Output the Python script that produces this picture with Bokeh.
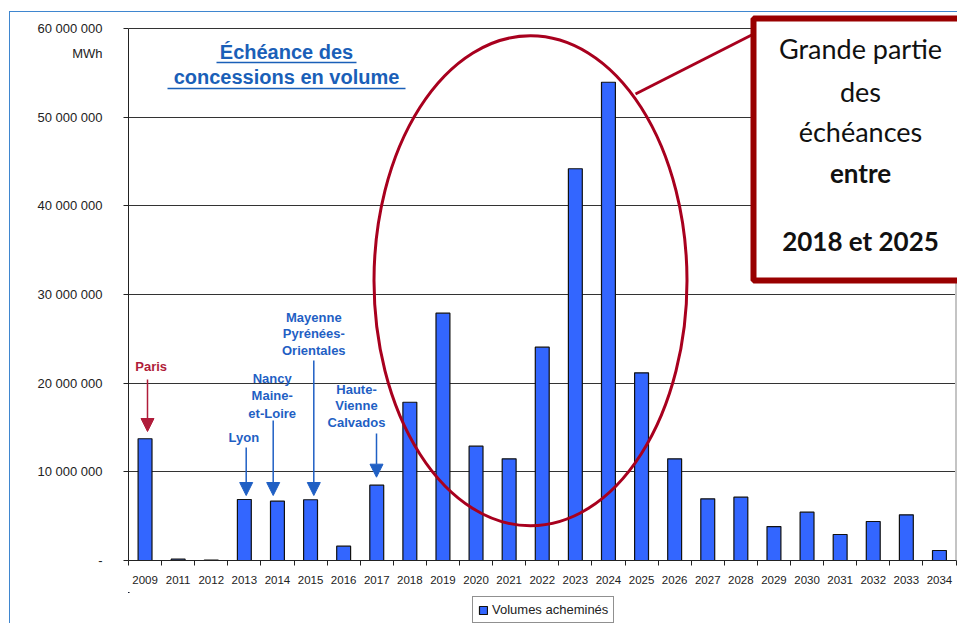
from bokeh.plotting import figure
from bokeh.layouts import column
from bokeh.models import (Range1d, FixedTicker, Legend, LegendItem, Arrow,
                          NormalHead)
from bokeh.core.properties import value
from bokeh.embed import file_html
from bokeh.resources import INLINE

# ---------------- data ----------------
years = ["2009", "2011", "2012", "2013", "2014", "2015", "2016", "2017",
         "2018", "2019", "2020", "2021", "2022", "2023", "2024", "2025",
         "2026", "2027", "2028", "2029", "2030", "2031", "2032", "2033", "2034"]
volumes = [13.73e6, 0.15e6, 0.05e6, 6.88e6, 6.69e6, 6.85e6, 1.61e6, 8.49e6,
           17.85e6, 27.89e6, 12.89e6, 11.47e6, 24.06e6, 44.18e6, 53.94e6, 21.17e6,
           11.47e6, 6.96e6, 7.14e6, 3.83e6, 5.45e6, 2.93e6, 4.40e6, 5.15e6, 1.13e6]
y_ticks = [0, 10000000, 20000000, 30000000, 40000000, 50000000, 60000000]
y_tick_labels = ["-", "10 000 000", "20 000 000", "30 000 000",
                 "40 000 000", "50 000 000", "60 000 000"]
unit_label = "MWh"
unit_value = 57180000
series_name = "Volumes acheminés"

# ---------------- geometry helpers (page px -> data) ----------------
X0, S = 128.0, 33.1
def dx(px):
    return (px - X0) / S - 0.5
def dy(py):
    return (560.0 - py) * 60e6 / 532.0

FONT = "Liberation Sans"
BLUE_TXT = "#1f5fc4"
RED_TXT = "#b01c3a"
ELL_RED = "#a8001e"
BOX_RED = "#990000"
BORDER = "#3f86cf"
BAR_FILL = "#3366ff"
BAR_LINE = "#111111"

xs = list(range(len(years)))

p = figure(width=957, height=592,
           x_range=Range1d(-0.5, -0.5 + 829 / S),
           y_range=Range1d(0, 560 / 532 * 60e6),
           output_backend="svg", toolbar_location=None,
           min_border_left=128, min_border_right=0, min_border_top=0,
           min_border_bottom=32)
p.styles = {
    "background": (f"linear-gradient({BORDER},{BORDER}) 9px 11px / 1px 100% no-repeat, "
                   f"linear-gradient({BORDER},{BORDER}) 9px 11px / 100% 1px no-repeat")
}
p.outline_line_color = None
p.background_fill_alpha = 0
p.border_fill_alpha = 0

# y axis: labels on major ticks (incl. unit), tick marks drawn as minor ticks
yt_major = FixedTicker(ticks=y_ticks + [unit_value], minor_ticks=y_ticks)
p.yaxis.ticker = yt_major
overrides = {t: l for t, l in zip(y_ticks, y_tick_labels)}
overrides[unit_value] = unit_label
p.yaxis.major_label_overrides = overrides
p.yaxis.bounds = (0, 60e6)
p.yaxis.major_tick_out = 0
p.yaxis.major_tick_in = 0
p.yaxis.minor_tick_out = 5
p.yaxis.minor_tick_in = 0
p.yaxis.minor_tick_line_color = "#222222"
p.yaxis.major_label_standoff = 21
p.yaxis.major_label_text_font = FONT
p.yaxis.major_label_text_font_size = "13px"
p.yaxis.major_label_text_color = "#222222"
p.yaxis.axis_line_color = "#222222"

xt = FixedTicker(ticks=xs, minor_ticks=[i - 0.5 for i in range(len(years) + 1)])
p.xaxis.ticker = xt
p.xaxis.major_label_overrides = {i: y for i, y in zip(xs, years)}
p.xaxis.bounds = (-0.5, len(years) - 0.5)
p.xaxis.major_tick_out = 0
p.xaxis.major_tick_in = 0
p.xaxis.minor_tick_out = 5
p.xaxis.minor_tick_in = 0
p.xaxis.minor_tick_line_color = "#222222"
p.xaxis.major_label_standoff = 10
p.xaxis.major_label_text_font = FONT
p.xaxis.major_label_text_font_size = "11.5px"
p.xaxis.major_label_text_color = "#222222"
p.xaxis.axis_line_color = "#222222"

p.xgrid.visible = False
p.ygrid.ticker = FixedTicker(ticks=y_ticks)
p.ygrid.bounds = (-0.5, len(years) - 0.5)
p.ygrid.grid_line_color = "#333333"
p.ygrid.grid_line_width = 1

# right border of plot area
p.segment(x0=[len(years) - 0.5], y0=[0], x1=[len(years) - 0.5], y1=[60e6],
          line_color="#c4c4c4", line_width=2)

# bars
bars = p.vbar(x=xs, top=volumes, width=0.42, fill_color=BAR_FILL,
              line_color=BAR_LINE, line_width=1.2)

# title
p.text(x=[dx(286), dx(286)], y=[dy(51.5), dy(76)],
       text=["Échéance des", "concessions en volume"],
       text_font=value(FONT), text_font_style="bold", text_font_size="20px",
       text_color="#1a5fb8", text_align="center", text_baseline="middle")
p.segment(x0=[dx(216), dx(167)], y0=[dy(62), dy(88)],
          x1=[dx(356), dx(405)], y1=[dy(62), dy(88)],
          line_color="#1a5fb8", line_width=1.6)

# city annotations
p.text(x=[dx(150.7)], y=[dy(365.7)], text=["Paris"],
       text_font=value(FONT), text_font_style="bold", text_font_size="13px",
       text_color=RED_TXT, text_align="center", text_baseline="middle")
blue_lines = [("Lyon", 243.3, 436.7),
              ("Nancy", 271.7, 377.7), ("Maine-", 271.7, 395), ("et-Loire", 271.7, 412.7),
              ("Mayenne", 313.3, 316.7), ("Pyrénées-", 313.3, 333), ("Orientales", 313.3, 349.5),
              ("Haute-", 356, 388.7), ("Vienne", 356, 405.3), ("Calvados", 356, 422.3)]
p.text(x=[dx(b[1]) for b in blue_lines], y=[dy(b[2]) for b in blue_lines],
       text=[b[0] for b in blue_lines],
       text_font=value(FONT), text_font_style="bold", text_font_size="13px",
       text_color=BLUE_TXT, text_align="center", text_baseline="middle")

arrows = [(147, 379, 431, RED_TXT), (245.7, 447, 495, BLUE_TXT),
          (272.7, 420, 495, BLUE_TXT), (313.3, 360, 495, BLUE_TXT),
          (376, 433, 476.7, BLUE_TXT)]
for ax, y0, y1, c in arrows:
    p.add_layout(Arrow(x_start=dx(ax), y_start=dy(y0), x_end=dx(ax), y_end=dy(y1),
                       line_color=c, line_width=1.5,
                       end=NormalHead(size=13, fill_color=c, line_color=c, line_width=1)))

# ellipse highlight
p.ellipse(x=[dx(530)], y=[dy(280.3)], width=[313], height=[490],
          width_units="screen", height_units="screen",
          fill_color=None, line_color=ELL_RED, line_width=3)

# connector
p.segment(x0=[dx(635)], y0=[dy(93.5)], x1=[dx(760)], y1=[dy(30)],
          line_color=ELL_RED, line_width=3)

# callout box
p.quad(left=[dx(753)], right=[dx(1010)], top=[dy(18)], bottom=[dy(280)],
       fill_color="white", line_color=BOX_RED, line_width=6)
p.text(x=[dx(860)] * 3, y=[dy(48), dy(91), dy(131)],
       text=["Grande partie", "des", "échéances"],
       text_font=value("Lato"), text_font_size="27px", text_color="#111111",
       text_align="center", text_baseline="middle")
p.text(x=[dx(860)] * 2, y=[dy(172), dy(240)],
       text=["entre", "2018 et 2025"],
       text_font=value("Lato"), text_font_style="bold", text_font_size="26px",
       text_color="#111111", text_align="center", text_baseline="middle")

# ---------------- legend strip below the chart ----------------
p2 = figure(width=957, height=31, x_range=Range1d(1000, 1001), y_range=Range1d(-2, -1),
            x_axis_type=None, y_axis_type=None,
            output_backend="svg", toolbar_location=None, min_border=0)
p2.styles = {"background": f"linear-gradient({BORDER},{BORDER}) 9px 0 / 1px 100% no-repeat"}
p2.outline_line_color = None
p2.background_fill_alpha = 0
p2.border_fill_alpha = 0
p2.xgrid.visible = False
p2.ygrid.visible = False
# same series, kept far outside this strip's visible range: only its legend swatch shows
swatch = p2.vbar(x=xs, top=volumes, width=0.42, fill_color=BAR_FILL,
                 line_color=BAR_LINE, line_width=1.2)
legend = Legend(items=[LegendItem(label=series_name, renderers=[swatch])],
                location=(344, 0), orientation="horizontal",
                label_text_font=FONT, label_text_font_size="13px",
                label_text_color="#222222",
                glyph_width=10, glyph_height=10, label_height=13,
                label_standoff=4, padding=5, margin=0, spacing=0,
                border_line_color="#222222", border_line_width=1,
                background_fill_color="white", background_fill_alpha=1)
p2.add_layout(legend, "center")

open("out.html", "w").write(file_html(column(p, p2, spacing=0), INLINE))
